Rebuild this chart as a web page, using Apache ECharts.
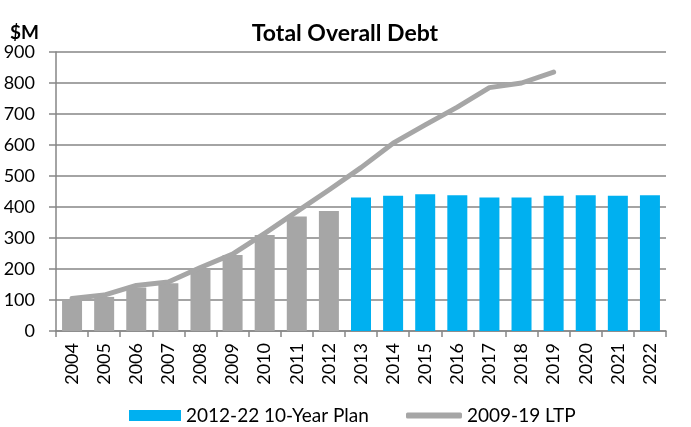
<!DOCTYPE html>
<html><head><meta charset="utf-8">
<script src="https://cdn.jsdelivr.net/npm/echarts@6/dist/echarts.min.js"></script>
<style>html,body{margin:0;padding:0;background:#fff}#c{width:691px;height:427px}</style>
</head><body><div id="c"></div>
<script>
const years = ['2004','2005','2006','2007','2008','2009','2010','2011','2012','2013','2014','2015','2016','2017','2018','2019','2020','2021','2022'];
const actualDebt = [100,110,140,154,202,245,310,369,387,null,null,null,null,null,null,null,null,null,null];
const planDebt = [null,null,null,null,null,null,null,null,null,431,436,441,438,431,431,436,438,436,438];
const ltpDebt = [105,116,147,158,205,248,315,385,455,527,606,665,722,785,800,835,null,null,null];
const yTicks = [0,100,200,300,400,500,600,700,800,900];
const FONT = 'Lato';
const chart = echarts.init(document.getElementById('c'), null, {renderer:'canvas'});
chart.setOption({
  animation:false,
  textStyle:{fontFamily:FONT},
  title:[
    {text:'Total Overall Debt', left:340, top:17, textAlign:'center', textStyle:{fontFamily:FONT,fontSize:23,fontWeight:'bold',color:'#000'}},
    {text:'$M', left:5, top:18, textStyle:{fontFamily:FONT,fontSize:19,fontWeight:'bold',color:'#000'}}
  ],
  grid:{left:56, right:25, top:52, bottom:96},
  legend:[
    {data:['2012-22 10-Year Plan'], left:124, top:401, itemWidth:52, itemHeight:11, itemGap:0,
     textStyle:{fontFamily:FONT,fontSize:19,color:'#000'}, icon:'rect'},
    {data:[{name:'2009-19 LTP', icon:'roundRect'}], left:401, top:401, itemWidth:56, itemHeight:6,
     textStyle:{fontFamily:FONT,fontSize:19,color:'#000'}}
  ],
  xAxis:{type:'category', data:years, boundaryGap:true,
    axisLine:{lineStyle:{color:'#868686',width:1.5}},
    axisTick:{show:true, alignWithLabel:false, length:6, lineStyle:{color:'#868686',width:1.5}},
    axisLabel:{rotate:90, interval:0, fontSize:18, color:'#000', margin:12, fontFamily:FONT}
  },
  yAxis:{type:'value', min:0, max:900, interval:100,
    axisLine:{show:true, lineStyle:{color:'#868686',width:1.5}},
    axisTick:{show:true, length:7, lineStyle:{color:'#868686',width:1.5}},
    splitLine:{lineStyle:{color:'#868686',width:1.5}},
    axisLabel:{fontSize:18, color:'#000', margin:21, fontFamily:FONT,
      formatter:v=>yTicks.includes(v)?String(v):''}
  },
  series:[
    {name:'Actual', type:'bar', stack:'d', data:actualDebt, barWidth:20, itemStyle:{color:'#A6A6A6'}},
    {name:'2012-22 10-Year Plan', type:'bar', stack:'d', data:planDebt, barWidth:20, itemStyle:{color:'#00B0F0'}},
    {name:'2009-19 LTP', type:'line', data:ltpDebt, symbol:'none', smooth:false,
     lineStyle:{color:'#A6A6A6', width:5, cap:'round', join:'round'}, itemStyle:{color:'#A6A6A6'}, z:5}
  ]
});
</script></body></html>
